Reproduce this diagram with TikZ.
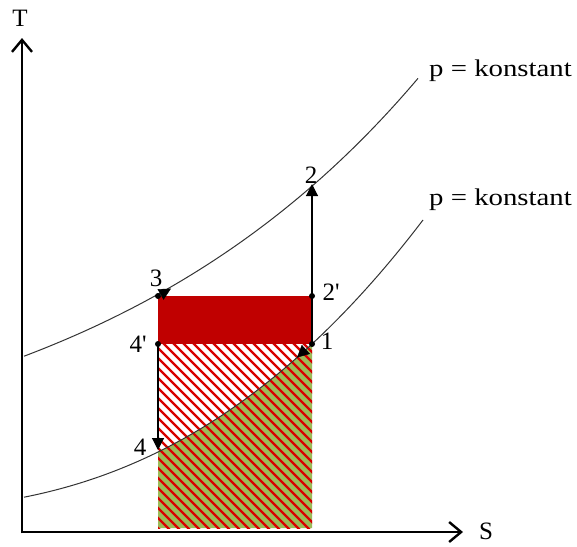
\documentclass[tikz,border=0pt]{standalone}
\usepackage{fontspec}
\setmainfont{Liberation Serif}
\usepackage{graphicx}
\usetikzlibrary{arrows.meta}
\definecolor{rectred}{HTML}{C00000}
\definecolor{hatchred}{HTML}{D80000}
\definecolor{olive}{HTML}{9BBB59}
\newcommand{\prm}{\textquotesingle}
\begin{document}
\begin{tikzpicture}[x=1pt,y=-1pt,
  declare function={hu(\t)=40.4+122.6*exp(0.00288*\t);
                    hl(\t)=31+33.835*(\t/100-0.25)+12.647*(\t/100-0.25)*(\t/100-1.58)+0.765*(\t/100-0.25)*(\t/100-1.58)*(\t/100-3.12);},
  axis/.style={line width=2.6pt,-{Straight Barb[length=12pt,width=20pt,line width=2.4pt]}},
  isobar/.style={line width=1pt,draw=black!80},
  proc/.style={line width=1.1pt,-{Triangle[length=12pt,width=12pt]}},
  tip/.style={-{Triangle[length=12pt,width=12pt]}},
  dot/.style={circle,fill=black,inner sep=0pt,minimum size=6pt},
  lbl/.style={font=\fontsize{25}{29}\selectfont,inner sep=0pt},
  plbl/.style={font=\fontsize{24}{28}\selectfont,inner sep=0pt,anchor=base west}]
\useasboundingbox (0,0) rectangle (577,546);
% regions
\fill[olive] (158,528) -- plot[domain=158:312,samples=40] (\x,{528-hl(\x)}) -- (312,528) -- cycle;
\begin{scope}
  \clip (158,344) rectangle (312,528);
  \foreach \a in {-380,-370,...,320}{
    \draw[hatchred,line width=2.4pt] (\a,320) -- (\a+240,560);
  }
\end{scope}
\fill[rectred] (158,296) rectangle (312,344);
% isobars
\draw[isobar] plot[domain=24:418,samples=80] (\x,{528-hu(\x)});
\draw[isobar] plot[domain=24:423,samples=80] (\x,{528-hl(\x)});
% axes
\coordinate (O) at (22,532);
\coordinate (Ttip) at (22,38);
\coordinate (Stip) at (463,532);
\draw[axis] (22,533.3) -- (Ttip);
\draw[axis] (O) -- (Stip);
% points
\node[dot] (p3) at (158,296) {};
\node[dot] (p2s) at (312,296) {};
\node[dot] (p4s) at (158,344) {};
\node[dot] (p1) at (312,344) {};
\coordinate (p2) at (312,184);
\coordinate (p4) at (158,450);
\draw[proc] (p1.center) -- (p2);
\draw[proc] (p4s.center) -- (p4);
\coordinate (a3) at (171,288.6);
\coordinate (a3b) at (160,294.8);
\draw[tip] (a3b) -- (a3);
\coordinate (a1) at (297,357.5);
\coordinate (a1b) at (306,349.3);
\draw[tip] (a1b) -- (a1);
% labels
\node[lbl] (lT) at (20,18) {T};
\node[lbl] (lS) at (486,531) {S};
\node[lbl] (l2) at (311,175) {2};
\node[lbl] (l2s) at (331,292) {2\prm};
\node[lbl] (l1) at (327,341) {1};
\node[lbl] (l3) at (156,278) {3};
\node[lbl] (l4s) at (138,344) {4\prm};
\node[lbl] (l4) at (140,447) {4};
\node[plbl] (k1) at (429,76) {\scalebox{1.2}[1]{p = konstant}};
\node[plbl] (k2) at (429,205) {\scalebox{1.2}[1]{p = konstant}};
\end{tikzpicture}
\end{document}
